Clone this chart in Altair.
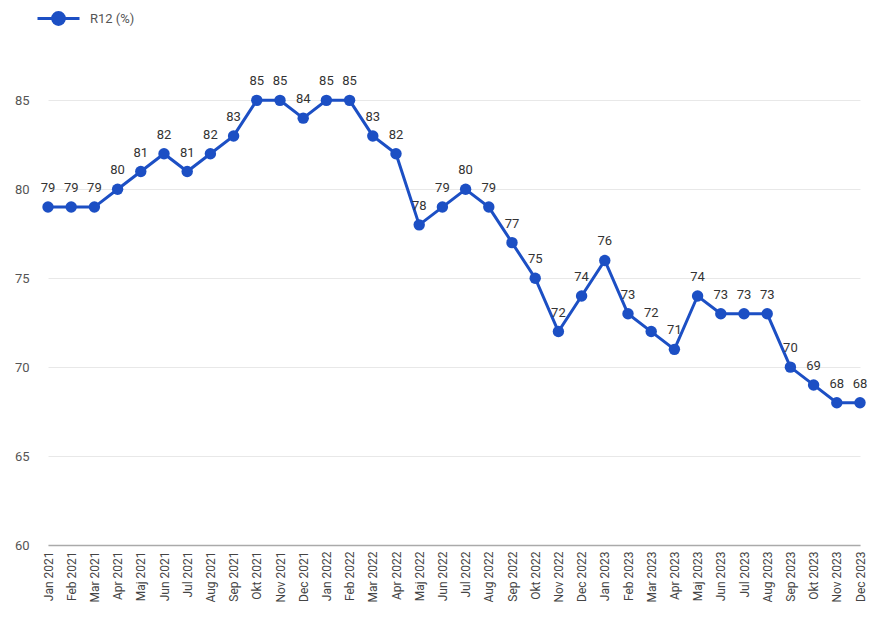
import altair as alt
import pandas as pd

months = ["Jan", "Feb", "Mar", "Apr", "Maj", "Jun", "Jul", "Aug", "Sep", "Okt", "Nov", "Dec"]
years = ["2021", "2022", "2023"]
labels = [f"{m} {y}" for y in years for m in months]
values = [79, 79, 79, 80, 81, 82, 81, 82, 83, 85, 85, 84,
          85, 85, 83, 82, 78, 79, 80, 79, 77, 75, 72, 74,
          76, 73, 72, 71, 74, 73, 73, 73, 70, 69, 68, 68]
series = "R12 (%)"

df = pd.DataFrame({"month": labels, "value": values, "series": series})
BLUE = "#1c4fc4"
FONT = "Roboto"

x = alt.X("month:N", sort=None, title=None,
          scale=alt.Scale(type="point", range=[12, 824], padding=0),
          axis=alt.Axis(labelAngle=270, labelFontSize=12, labelColor="#444",
                        labelFont=FONT, ticks=False, domainColor="#aaa",
                        domainWidth=1.5, labelPadding=6))
y = alt.Y("value:Q", title=None,
          scale=alt.Scale(domain=[60, 88], nice=False, zero=False),
          axis=alt.Axis(values=[60, 65, 70, 75, 80, 85], labelFontSize=13,
                        labelColor="#555", labelFont=FONT, ticks=False,
                        domain=False, gridColor="#e8e8e8", labelPadding=7))

color = alt.Color("series:N", scale=alt.Scale(range=[BLUE]),
                  legend=alt.Legend(title=None, orient="none", legendX=0, legendY=-51,
                                    symbolType="M-1,0L1,0M0.28,0A0.28,0.28,0,1,1,-0.28,0A0.28,0.28,0,1,1,0.28,0Z",
                                    symbolSize=1764, symbolStrokeWidth=3,
                                    symbolFillColor=BLUE, symbolStrokeColor=BLUE,
                                    labelFontSize=13, labelColor="#555", labelFont=FONT,
                                    labelOffset=9))

line = alt.Chart(df).mark_line(strokeWidth=3).encode(x=x, y=y, color=color)
pts = alt.Chart(df).mark_circle(size=130, opacity=1).encode(
    x=x, y=y, color=alt.Color("series:N", scale=alt.Scale(range=[BLUE]), legend=None))
txt = alt.Chart(df).mark_text(baseline="bottom", dy=-12, fontSize=13, color="#333", font=FONT).encode(
    x=x, y=y, text="value:Q")

chart = (line + pts + txt).properties(
    width=833, height=498,
    autosize=alt.AutoSizeParams(type="none"),
    padding={"left": 28, "top": 39, "right": 0, "bottom": 74},
).configure_view(stroke=None)
chart.save("out.html", embed_options={"renderer": "svg", "actions": False})
